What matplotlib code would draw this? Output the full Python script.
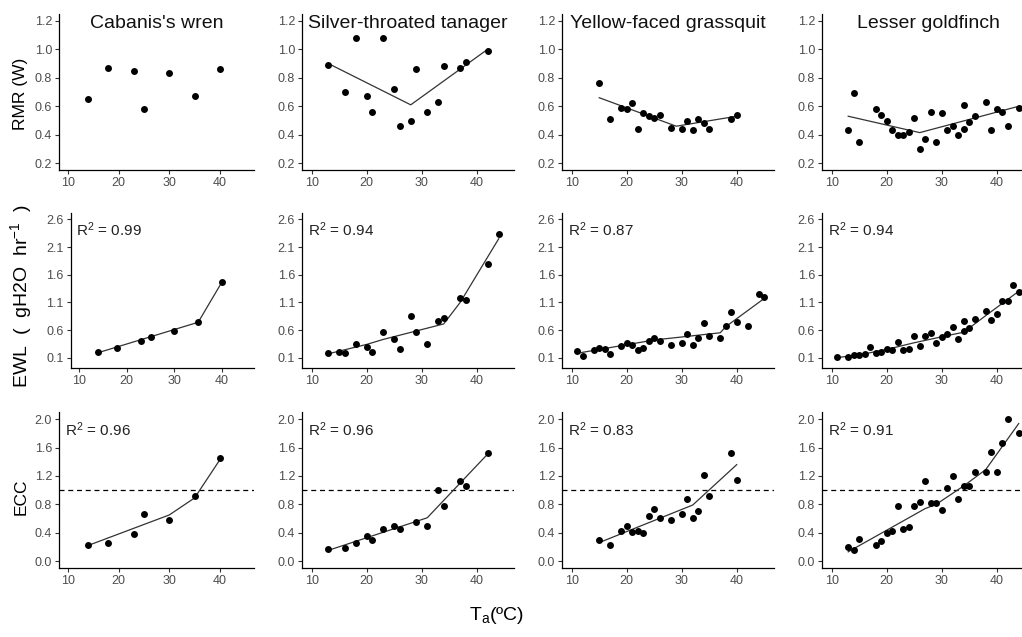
import numpy as np
import matplotlib
matplotlib.use("Agg")
import matplotlib.pyplot as plt
from matplotlib.ticker import FormatStrFormatter

plt.rcParams['font.family'] = ['Liberation Sans', 'DejaVu Sans']
plt.rcParams['mathtext.fontset'] = 'custom'
plt.rcParams['mathtext.rm'] = 'Liberation Sans'
plt.rcParams['mathtext.it'] = 'Liberation Sans:italic'
plt.rcParams['mathtext.default'] = 'regular'

species = ["Cabanis's wren", "Silver-throated tanager", "Yellow-faced grassquit", "Lesser goldfinch"]

# ---- RMR (W) ----
ta_rmr_wren = [14, 18, 23, 25, 30, 35, 40]
rmr_wren = [0.65, 0.87, 0.85, 0.58, 0.83, 0.67, 0.86]

ta_rmr_tanager = [13, 16, 18, 20, 21, 23, 25, 26, 28, 29, 31, 33, 34, 37, 38, 42]
rmr_tanager = [0.89, 0.70, 1.08, 0.67, 0.56, 1.08, 0.72, 0.46, 0.50, 0.86, 0.56, 0.63, 0.88, 0.87, 0.91, 0.99]
fit_rmr_tanager_x = [13, 28, 42]
fit_rmr_tanager_y = [0.90, 0.61, 1.00]

ta_rmr_grassquit = [15, 17, 19, 20, 21, 22, 23, 24, 25, 26, 28, 30, 31, 32, 33, 34, 35, 39, 40]
rmr_grassquit = [0.76, 0.51, 0.59, 0.58, 0.62, 0.44, 0.55, 0.53, 0.52, 0.54, 0.45, 0.44, 0.50, 0.43, 0.51, 0.48, 0.44, 0.51, 0.54]
fit_rmr_grassquit_x = [15, 29, 40]
fit_rmr_grassquit_y = [0.66, 0.46, 0.53]

ta_rmr_goldfinch = [13, 14, 15, 18, 19, 20, 21, 22, 23, 24, 25, 26, 27, 28, 29, 30, 31, 32, 33, 34, 34, 35, 36, 38, 39, 40, 41, 42, 44]
rmr_goldfinch = [0.43, 0.69, 0.35, 0.58, 0.54, 0.50, 0.43, 0.40, 0.40, 0.42, 0.52, 0.30, 0.37, 0.56, 0.35, 0.55, 0.43, 0.46, 0.40, 0.61, 0.44, 0.49, 0.53, 0.63, 0.43, 0.58, 0.56, 0.46, 0.59]
fit_rmr_goldfinch_x = [13, 26, 44]
fit_rmr_goldfinch_y = [0.53, 0.415, 0.60]

# ---- EWL ----
ta_ewl_wren = [14, 18, 23, 25, 30, 35, 40]
ewl_wren = [0.20, 0.28, 0.40, 0.48, 0.59, 0.74, 1.47]
fit_ewl_wren_x = [14, 35, 40]
fit_ewl_wren_y = [0.19, 0.74, 1.47]

ta_ewl_tanager = [13, 15, 16, 18, 20, 21, 23, 25, 26, 28, 29, 31, 33, 34, 37, 38, 42, 44]
ewl_tanager = [0.19, 0.21, 0.18, 0.35, 0.29, 0.21, 0.57, 0.44, 0.26, 0.85, 0.57, 0.35, 0.76, 0.82, 1.17, 1.14, 1.80, 2.34]
fit_ewl_tanager_x = [13, 20, 23, 34, 37, 44]
fit_ewl_tanager_y = [0.17, 0.34, 0.43, 0.71, 1.10, 2.25]

ta_ewl_grassquit = [11, 12, 14, 15, 16, 17, 19, 20, 21, 22, 23, 24, 25, 26, 28, 30, 31, 32, 33, 34, 35, 37, 38, 39, 40, 42, 44, 45]
ewl_grassquit = [0.22, 0.13, 0.24, 0.27, 0.26, 0.17, 0.31, 0.36, 0.33, 0.24, 0.27, 0.40, 0.46, 0.40, 0.33, 0.36, 0.53, 0.33, 0.45, 0.72, 0.50, 0.46, 0.68, 0.93, 0.74, 0.68, 1.25, 1.19]
fit_ewl_grassquit_x = [11, 25, 37, 38, 45]
fit_ewl_grassquit_y = [0.18, 0.42, 0.55, 0.66, 1.17]

ta_ewl_goldfinch = [11, 13, 14, 15, 16, 17, 18, 19, 20, 21, 22, 23, 24, 25, 26, 27, 28, 29, 30, 31, 32, 33, 34, 34, 35, 36, 38, 39, 40, 41, 42, 43, 44]
ewl_goldfinch = [0.11, 0.12, 0.14, 0.14, 0.16, 0.29, 0.18, 0.20, 0.26, 0.24, 0.38, 0.24, 0.26, 0.50, 0.32, 0.50, 0.55, 0.37, 0.48, 0.53, 0.66, 0.43, 0.76, 0.58, 0.64, 0.80, 0.94, 0.78, 0.89, 1.12, 1.12, 1.42, 1.29]
fit_ewl_goldfinch_x = [11, 16, 20, 25, 32, 34, 38, 44]
fit_ewl_goldfinch_y = [0.10, 0.17, 0.25, 0.37, 0.52, 0.56, 0.86, 1.30]

r2_ewl = ["0.99", "0.94", "0.87", "0.94"]

# ---- ECC ----
ta_ecc_wren = [14, 18, 23, 25, 30, 35, 40]
ecc_wren = [0.23, 0.25, 0.38, 0.67, 0.58, 0.92, 1.45]
fit_ecc_wren_x = [14, 30, 35, 40]
fit_ecc_wren_y = [0.22, 0.65, 0.89, 1.43]

ta_ecc_tanager = [13, 16, 18, 20, 21, 23, 25, 26, 29, 31, 33, 34, 37, 38, 42]
ecc_tanager = [0.17, 0.19, 0.25, 0.35, 0.29, 0.45, 0.49, 0.45, 0.55, 0.49, 1.00, 0.78, 1.13, 1.06, 1.52]
fit_ecc_tanager_x = [13, 31, 42]
fit_ecc_tanager_y = [0.15, 0.61, 1.51]

ta_ecc_grassquit = [15, 17, 19, 20, 21, 22, 23, 24, 25, 26, 28, 30, 31, 32, 33, 34, 35, 39, 40]
ecc_grassquit = [0.29, 0.23, 0.42, 0.50, 0.41, 0.42, 0.40, 0.63, 0.73, 0.60, 0.58, 0.66, 0.88, 0.61, 0.70, 1.21, 0.92, 1.52, 1.14]
fit_ecc_grassquit_x = [15, 32, 40]
fit_ecc_grassquit_y = [0.26, 0.79, 1.36]

ta_ecc_goldfinch = [13, 14, 15, 18, 19, 20, 21, 22, 23, 24, 25, 26, 27, 28, 29, 30, 31, 32, 33, 34, 35, 36, 38, 39, 40, 41, 42, 44]
ecc_goldfinch = [0.20, 0.15, 0.31, 0.22, 0.28, 0.40, 0.42, 0.78, 0.45, 0.48, 0.78, 0.83, 1.13, 0.82, 0.82, 0.72, 1.03, 1.20, 0.88, 1.06, 1.06, 1.26, 1.25, 1.54, 1.26, 1.67, 2.01, 1.80]
fit_ecc_goldfinch_x = [13, 27, 29, 34, 38, 44]
fit_ecc_goldfinch_y = [0.13, 0.74, 0.80, 1.06, 1.29, 1.94]

r2_ecc = ["0.96", "0.96", "0.83", "0.91"]

x_ticks = [10, 20, 30, 40]
rmr_ticks = [0.2, 0.4, 0.6, 0.8, 1.0, 1.2]
ewl_ticks = [0.1, 0.6, 1.1, 1.6, 2.1, 2.6]
ecc_ticks = [0.0, 0.4, 0.8, 1.2, 1.6, 2.0]

rows = [
    dict(pts=[(ta_rmr_wren, rmr_wren), (ta_rmr_tanager, rmr_tanager),
              (ta_rmr_grassquit, rmr_grassquit), (ta_rmr_goldfinch, rmr_goldfinch)],
         fits=[None, (fit_rmr_tanager_x, fit_rmr_tanager_y),
               (fit_rmr_grassquit_x, fit_rmr_grassquit_y), (fit_rmr_goldfinch_x, fit_rmr_goldfinch_y)],
         r2=None, ticks=rmr_ticks, ylim=(0.15, 1.25), label="RMR (W)", hline=False),
    dict(pts=[(ta_ewl_wren, ewl_wren), (ta_ewl_tanager, ewl_tanager),
              (ta_ewl_grassquit, ewl_grassquit), (ta_ewl_goldfinch, ewl_goldfinch)],
         fits=[(fit_ewl_wren_x, fit_ewl_wren_y), (fit_ewl_tanager_x, fit_ewl_tanager_y),
               (fit_ewl_grassquit_x, fit_ewl_grassquit_y), (fit_ewl_goldfinch_x, fit_ewl_goldfinch_y)],
         r2=r2_ewl, ticks=ewl_ticks, ylim=(-0.09, 2.72),
         label="EWL  (  gH2O  hr$^{-1}$  )", hline=False),
    dict(pts=[(ta_ecc_wren, ecc_wren), (ta_ecc_tanager, ecc_tanager),
              (ta_ecc_grassquit, ecc_grassquit), (ta_ecc_goldfinch, ecc_goldfinch)],
         fits=[(fit_ecc_wren_x, fit_ecc_wren_y), (fit_ecc_tanager_x, fit_ecc_tanager_y),
               (fit_ecc_grassquit_x, fit_ecc_grassquit_y), (fit_ecc_goldfinch_x, fit_ecc_goldfinch_y)],
         r2=r2_ecc, ticks=ecc_ticks, ylim=(-0.1, 2.1), label="ECC", hline=True),
]

# layout in pixels
W, H = 1022, 637
col_left = [59.1, 302.1, 562.1, 822.1]
col_width = [195, 211.75, 211.75, 211.75]
row_top = [13.6, 212.7, 412.2]
row_bot = [170.4, 368.2, 568.1]
label_size = [12.5, 14, 12.5]
label_y = [94, 296, 497]

fig = plt.figure(figsize=(W / 100, H / 100), dpi=100)

for r, row in enumerate(rows):
    for c in range(4):
        left, width = col_left[c], col_width[c]
        if r == 1 and c == 0:
            left, width = 70.7, 183.5
        ax = fig.add_axes([left / W, 1 - row_bot[r] / H, width / W, (row_bot[r] - row_top[r]) / H])
        ax.set_xlim(8.25, 46.75)
        ax.set_ylim(*row['ylim'])
        ax.set_xticks(x_ticks)
        ax.set_yticks(row['ticks'])
        ax.yaxis.set_major_formatter(FormatStrFormatter('%.1f'))
        for s in ['top', 'right']:
            ax.spines[s].set_visible(False)
        for s in ['left', 'bottom']:
            ax.spines[s].set_linewidth(0.9)
            ax.spines[s].set_color('black')
        ax.tick_params(labelsize=9, labelcolor='#4d4d4d', color='#333333',
                       length=3, width=0.8, pad=2)
        if row['hline']:
            ax.axhline(1.0, color='black', lw=0.9, ls=(0, (4, 3)))
        fit = row['fits'][c]
        if fit is not None:
            ax.plot(fit[0], fit[1], color='#333333', lw=0.9)
        x, y = row['pts'][c]
        ax.plot(x, y, 'o', color='black', ms=5, mec='none')
        if row['r2'] is not None:
            ax.text(0.03, 0.89, 'R$^2$ = ' + row['r2'][c], transform=ax.transAxes,
                    fontsize=11, color='#222222', va='center', ha='left')
        if r == 0:
            ax.text(0.5, 0.94, species[c], transform=ax.transAxes, fontsize=14,
                    ha='center', va='center', color='#111111')
    fig.text(21 / W, 1 - label_y[r] / H, row['label'], rotation=90,
             fontsize=label_size[r], ha='center', va='center')

fig.text(497 / W, 1 - 615 / H, 'T$_a$(ºC)', fontsize=14, ha='center', va='center')

fig.savefig('out.png', dpi=100)
